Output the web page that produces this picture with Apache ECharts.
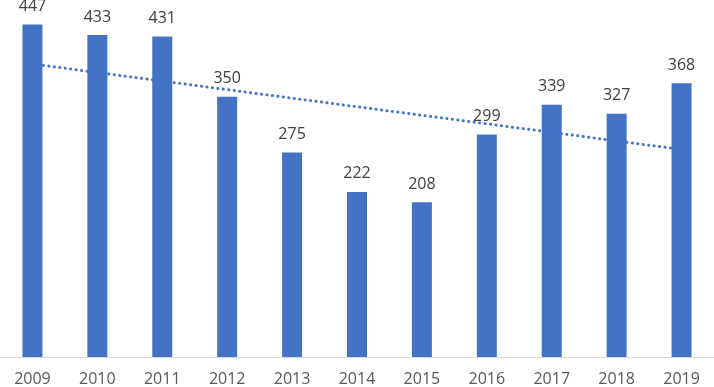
<!DOCTYPE html>
<html>
<head>
<meta charset="utf-8">
<style>html,body{margin:0;padding:0;background:#fff;}#c{width:714px;height:387px;}</style>
<script src="https://cdn.jsdelivr.net/npm/echarts@6/dist/echarts.min.js"></script>
</head>
<body>
<div id="c"></div>
<script>
const years = ['2009','2010','2011','2012','2013','2014','2015','2016','2017','2018','2019'];
const values = [447, 433, 431, 350, 275, 222, 208, 299, 339, 327, 368];
const trendStart = 394;
const trendEnd = 279;

const trendData = years.map((y, i) => i === 0 ? trendStart : (i === years.length - 1 ? trendEnd : '-'));

const chart = echarts.init(document.getElementById('c'), null, {renderer: 'canvas'});
chart.setOption({
  animation: false,
  grid: {left: 0, right: 0, top: 0, bottom: 29, containLabel: false},
  xAxis: {
    type: 'category',
    data: years,
    axisLine: {lineStyle: {color: '#d9d9d9', width: 1}},
    axisTick: {show: false},
    axisLabel: {color: '#595959', fontSize: 16, fontFamily: 'Open Sans', margin: 14}
  },
  yAxis: {
    type: 'value', min: 0, max: 480,
    show: false, splitLine: {show: false}
  },
  series: [
    {
      type: 'line',
      data: trendData,
      connectNulls: true,
      symbol: 'none',
      z: 1,
      lineStyle: {color: '#4472c4', width: 3, type: [0.1, 5.4], cap: 'round'}
    },
    {
      type: 'bar',
      data: values,
      barWidth: 20,
      z: 2,
      itemStyle: {color: '#4472c4'},
      label: {show: true, position: 'top', distance: 10, color: '#404040', fontSize: 16, fontFamily: 'Open Sans'}
    }
  ]
});
</script>
</body>
</html>
